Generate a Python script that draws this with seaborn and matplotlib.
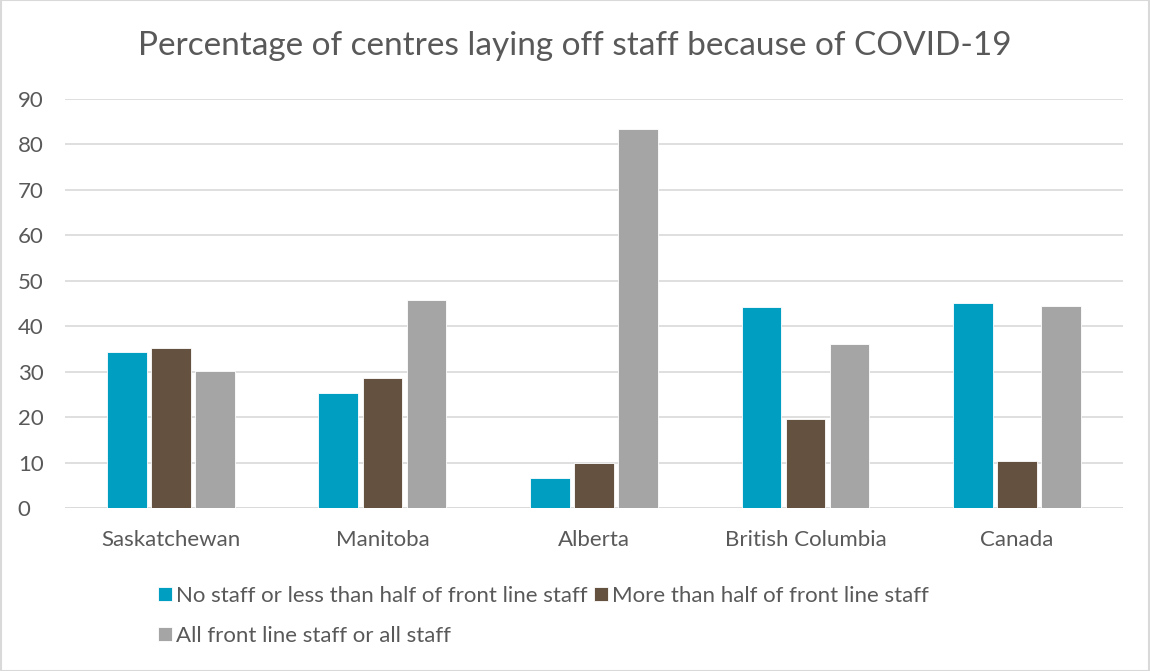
import pandas as pd
import matplotlib.pyplot as plt
import seaborn as sns
from matplotlib.patches import Rectangle

# data
provinces = ["Saskatchewan", "Manitoba", "Alberta", "British Columbia", "Canada"]
series = ["No staff or less than half of front line staff",
          "More than half of front line staff",
          "All front line staff or all staff"]
no_or_less_half = [34.3, 25.4, 6.6, 44.2, 45.0]
more_than_half = [35.2, 28.6, 9.8, 19.5, 10.3]
all_staff = [30.2, 45.7, 83.3, 36.1, 44.5]
colors = ["#009FC2", "#65513F", "#A5A5A5"]

df = pd.DataFrame({
    "province": provinces * 3,
    "series": [series[0]] * 5 + [series[1]] * 5 + [series[2]] * 5,
    "value": no_or_less_half + more_than_half + all_staff,
})

sns.set_theme(style="white")
plt.rcParams["font.family"] = ["Lato", "DejaVu Sans"]

fig = plt.figure(figsize=(11.5, 6.71), dpi=100)
ax = fig.add_axes([0.0565, 0.2429, 0.92, 0.6096])

sns.barplot(data=df, x="province", y="value", hue="series",
            order=provinces, hue_order=series, palette=colors,
            width=0.625, gap=0.1, saturation=1, edgecolor="white",
            linewidth=0.6, ax=ax)

ax.set_ylim(0, 90)
ax.set_yticks(range(0, 91, 10))
ax.set_xlim(-0.5, len(provinces) - 0.5)
ax.yaxis.grid(True, color="#D9D9D9", linewidth=1.2)
ax.set_axisbelow(True)
for s in ax.spines.values():
    s.set_visible(False)
ax.axhline(0, color="#D9D9D9", linewidth=1.2, zorder=0)
ax.tick_params(axis="both", length=0, labelsize=16, labelcolor="#595959")
ax.tick_params(axis="x", pad=16)
ax.tick_params(axis="y", pad=34)
for t in ax.get_yticklabels():
    t.set_horizontalalignment("left")
ax.set_xlabel("")
ax.set_ylabel("")

fig.text(0.5, 0.932, "Percentage of centres laying off staff because of COVID-19",
         ha="center", va="center", fontsize=24, color="#595959")

# legend: order so that row 1 has two entries, row 2 the third
handles, labels = ax.get_legend_handles_labels()
ax.legend_.remove()
order = [0, 2, 1]
fig.legend([handles[i] for i in order], [labels[i] for i in order],
           loc="upper left", bbox_to_anchor=(0.130, 0.140), ncol=2,
           frameon=False, fontsize=16, labelcolor="#595959",
           handlelength=0.6, handleheight=0.6, handletextpad=0.2,
           columnspacing=0.3, labelspacing=0.9, borderaxespad=0)

fig.patches.append(Rectangle((0.0005, 0.0005), 0.999, 0.999, transform=fig.transFigure,
                             fill=False, edgecolor="#D9D9D9", linewidth=1.5))

fig.savefig("out.png", dpi=100)
